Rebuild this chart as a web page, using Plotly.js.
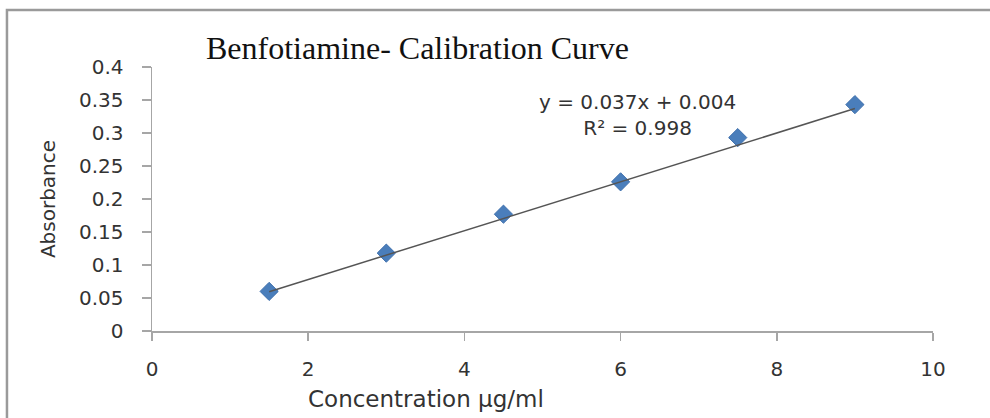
<!DOCTYPE html>
<html>
<head>
<meta charset="utf-8">
<script src="https://cdn.plot.ly/plotly-3.0.1.min.js"></script>
<style>
  html, body { margin: 0; padding: 0; background: #ffffff; }
  #chart { width: 990px; height: 418px; }
</style>
</head>
<body>
<div id="chart"></div>
<script>
// ---- data ----
const concentration = [1.5, 3, 4.5, 6, 7.5, 9];
const absorbance = [0.06, 0.118, 0.177, 0.226, 0.293, 0.343];
const trendX = [1.5, 9];
const trendY = [0.0595, 0.337];
const slope = "0.037";
const intercept = "0.004";
const rSquared = "0.998";
const xTickVals = [0, 2, 4, 6, 8, 10];
const xTickText = ["0", "2", "4", "6", "8", "10"];
const yTickVals = [0, 0.05, 0.1, 0.15, 0.2, 0.25, 0.3, 0.35, 0.4];
const yTickText = ["0", "0.05", "0.1", "0.15", "0.2", "0.25", "0.3", "0.35", "0.4"];
const chartTitle = "Benfotiamine- Calibration Curve";
const xTitle = "Concentration µg/ml";
const yTitle = "Absorbance";

const sans = "DejaVu Sans, Open Sans, sans-serif";
const textColor = "#333333";
const axisColor = "#a6a6a6";

const traces = [
  {
    x: concentration, y: absorbance, type: "scatter", mode: "markers",
    marker: { symbol: "diamond", size: 14, color: "#4a7ebb", line: { color: "#3f70ad", width: 1 } },
    hoverinfo: "x+y", showlegend: false
  },
  {
    x: trendX, y: trendY, type: "scatter", mode: "lines",
    line: { color: "#555555", width: 1.5 },
    hoverinfo: "skip", showlegend: false
  }
];

const layout = {
  width: 990, height: 418,
  margin: { l: 152, r: 57, t: 67, b: 87 },
  paper_bgcolor: "#ffffff", plot_bgcolor: "#ffffff",
  showlegend: false,
  title: {
    text: chartTitle,
    font: { family: "Liberation Serif, Times New Roman, serif", size: 32, color: "#111111" },
    x: 0.4217, xanchor: "center", xref: "container",
    y: 0.885, yanchor: "middle", yref: "container"
  },
  xaxis: {
    range: [0, 10], tickvals: xTickVals, ticktext: xTickText,
    showgrid: false, zeroline: false,
    showline: true, linecolor: axisColor, linewidth: 1.5,
    ticks: "outside", ticklen: 8, tickcolor: axisColor, tickwidth: 1.5,
    ticklabelstandoff: 11,
    tickfont: { family: sans, size: 20, color: textColor },
    fixedrange: true
  },
  yaxis: {
    range: [0, 0.4], tickvals: yTickVals, ticktext: yTickText,
    showgrid: false, zeroline: false,
    showline: true, linecolor: axisColor, linewidth: 1.5,
    ticks: "outside", ticklen: 9, tickcolor: axisColor, tickwidth: 1.5,
    ticklabelstandoff: 14,
    tickfont: { family: sans, size: 20, color: textColor },
    title: { text: yTitle, font: { family: sans, size: 20, color: textColor }, standoff: 18 },
    fixedrange: true
  },
  annotations: [
    {
      xref: "paper", yref: "paper", x: 0.621, y: 0.82,
      xanchor: "center", yanchor: "middle", align: "center", showarrow: false,
      text: "y = " + slope + "x + " + intercept + "<br>R² = " + rSquared,
      font: { family: sans, size: 20, color: textColor }
    },
    {
      xref: "paper", yref: "paper", x: 0.351, y: -0.258,
      xanchor: "center", yanchor: "middle", showarrow: false,
      text: xTitle,
      font: { family: sans, size: 23, color: textColor }
    }
  ],
  shapes: [
    {
      type: "rect", xref: "paper", yref: "paper", layer: "below",
      x0: -0.1857, x1: 1.09, y0: -0.4, y1: 1.2159,
      line: { color: "#9a9a9a", width: 2.5 }, fillcolor: "rgba(0,0,0,0)"
    }
  ]
};

Plotly.newPlot("chart", traces, layout, { displayModeBar: false, staticPlot: true });
</script>
</body>
</html>
